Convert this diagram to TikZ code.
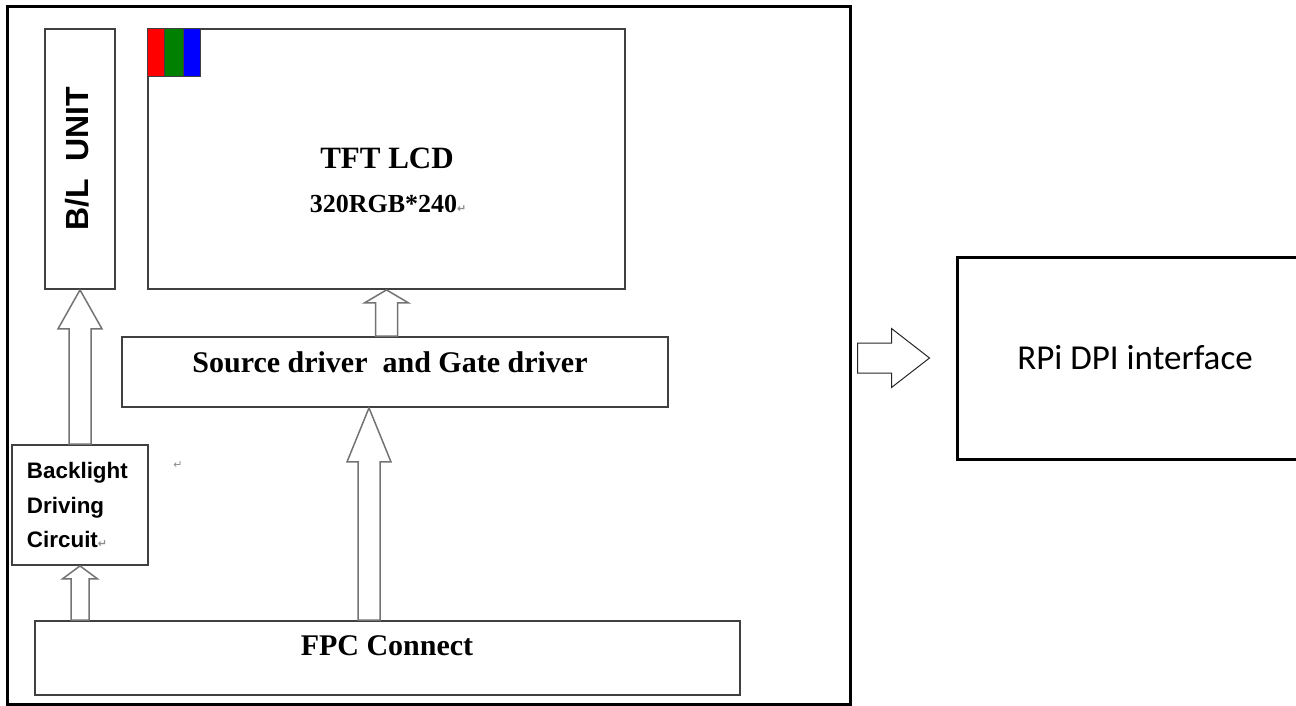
\documentclass[tikz,border=0pt]{standalone}
\usepackage{fontspec}
\setmainfont{Liberation Serif}
\newfontfamily\arialfont{Liberation Sans}
\newfontfamily\calibrifont{Carlito}
\newfontfamily\dejavufont{DejaVu Sans}
\usetikzlibrary{calc}

% paragraph mark left over from the word processor
\newcommand{\retmark}{{\dejavufont\fontsize{11}{11}\selectfont\color{black!45}↵}}

% hollow block arrow: [style] from, to, shaft half width, head half width, head length
\newcommand{\fatarrow}[6][]{%
  \coordinate (hb) at ($(#3)!#6!(#2)$);
  \draw[fat,#1] ($(#2)!#4!90:(#3)$) -- ($(hb)!#4!90:(#3)$) -- ($(hb)!#5!90:(#3)$) -- (#3)
    -- ($(hb)!#5!-90:(#3)$) -- ($(hb)!#4!-90:(#3)$) -- ($(#2)!#4!-90:(#3)$) -- cycle;}

\begin{document}
\begin{tikzpicture}[x=1pt, y=-1pt,
    box/.style={draw=black!75, line width=1.8pt, inner sep=0pt},
    fat/.style={draw=black!55, line width=1.5pt, line join=miter},
    serifbig/.style={font=\fontsize{30}{36}\selectfont\bfseries},
    sansbold/.style={font=\arialfont\bfseries}]

                \useasboundingbox (0,0) rectangle (1296,706);

                % Module frame
                \node[draw, line width=3pt, inner sep=0pt, minimum width=843pt, minimum height=697pt] (frame) at (428.5,355.5) {};

                % Draw panel blocks
                \node[box, minimum width=70pt, minimum height=260pt, sansbold] (bl) at (80,159)
                    {\rotatebox{90}{\fontsize{32}{36}\selectfont B/L\ \ UNIT}\hspace*{6pt}};
                \node[box, minimum width=477pt, minimum height=260pt] (tft) at (386.5,159) {};
                \node[box, minimum width=546pt, minimum height=70pt] (src) at (395,372) {};
                \node[box, minimum width=705pt, minimum height=74pt] (fpc) at (387.5,658) {};
                \node
                [
                    box,
                    minimum height=120pt,
                    text width=106pt,
                    inner xsep=15pt,
                    align=left,
                    font=\arialfont\bfseries\fontsize{22.4}{34.5}\selectfont
                ] (bdc) at (80,505) {Backlight\\Driving\\Circuit\rlap{\retmark}};

                % RGB pixel
                \draw[fill=red, draw=black!75, line width=1pt] (tft.north west) rectangle ++(17,48);
                \draw[fill=green!50!black, draw=black!75, line width=1pt] ($(tft.north west)+(17,0)$) rectangle ++(19,48);
                \draw[fill=blue, draw=black!75, line width=1pt] ($(tft.north west)+(36,0)$) rectangle ++(17,48);

                % Block labels
                \node[font=\fontsize{31}{36}\selectfont\bfseries] (tftname) at (387,158) {TFT LCD};
                \node[font=\fontsize{26}{30}\selectfont\bfseries, anchor=base] (tftres) at (383.5,212) {320RGB*240\rlap{\retmark}};
                \node[serifbig] (srcname) at (390,362) {Source driver\ \ and Gate driver};
                \node[serifbig] (fpcname) at (387,646) {FPC Connect};
                \node (stray) at (178,465) {\retmark};

                % Host side
                \node[draw, line width=3pt, inner sep=0pt, minimum width=356pt, minimum height=202pt,
                    font=\calibrifont\fontsize{35}{40}\selectfont] (rpi) at (1135,358) {RPi DPI interface};

                % Block arrows between the blocks
                \coordinate (f2s) at (369,372);
                \fatarrow{f2s |- fpc.north}{f2s |- src.south}{11pt}{22pt}{54pt}
                \fatarrow{tft.south |- src.north}{tft.south}{11pt}{22pt}{13pt}
                \fatarrow{bdc.south |- fpc.north}{bdc.south}{9pt}{17.5pt}{13pt}
                \fatarrow{bl.south |- bdc.north}{bl.south}{11pt}{22pt}{39pt}

                \coordinate (r0) at ($(frame.east |- rpi.west)+(6,0)$);
                \coordinate (r1) at ($(rpi.west)+(-26,0)$);
                \fatarrow[draw=black!85, line width=1pt]{r0}{r1}{15pt}{29.5pt}{38pt}

\end{tikzpicture}
\end{document}
